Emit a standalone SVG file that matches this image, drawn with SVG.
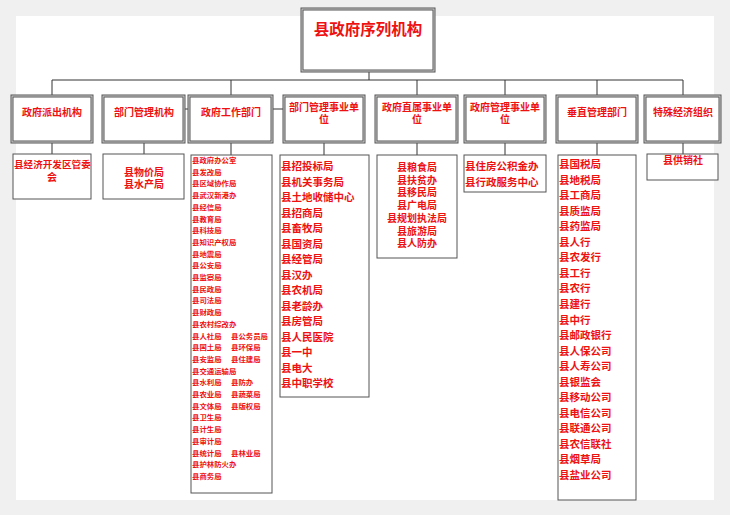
<svg xmlns="http://www.w3.org/2000/svg" width="730" height="515" viewBox="0 0 730 515">
<style>
.bg{fill:#f0f0f0}
.page{fill:#ffffff}
.hb{fill:#ffffff;stroke:#555555;stroke-width:3}
.hbi{fill:none;stroke:#d0d0d0;stroke-width:1}
.cb{fill:#ffffff;stroke:#555555;stroke-width:1}
.ln{fill:none;stroke:#333333;stroke-width:1}
text{font-family:"Noto Sans CJK SC","Noto Sans",sans-serif;fill:#ee1111;font-weight:bold}
.t{font-size:15.5px}
.h{font-size:10px;text-anchor:middle}
.c{font-size:10px;text-anchor:middle}
.l{font-size:10.5px}
.s{font-size:7.4px}
</style>
<rect class="bg" x="0" y="0" width="730" height="515"/>
<rect class="page" x="16" y="16" width="698" height="484"/>
<g id="connectors">
<path class="ln" d="M369,71V80M52,80H683M52,80V96M231,80V96M417,80V96M505,80V96M597,80V96M683,80V96"/>
<path class="ln" d="M184,109H189M272,109H284"/>
<path class="ln" d="M52,142V155M144,142V155M231,142V155M324,142V155M417,142V155M505,142V155M597,142V155M683,142V154"/>
</g>
<g id="title">
<rect class="hb" x="302" y="9" width="132" height="62"/>
<rect class="hbi" x="302" y="9" width="132" height="62"/>
<text class="t" x="368" y="35" text-anchor="middle">县政府序列机构</text>
</g>
<g id="h1"><rect class="hb" x="12" y="96" width="80" height="46"/><rect class="hbi" x="12" y="96" width="80" height="46"/><text class="h" x="52" y="116">政府派出机构</text></g>
<g id="h2"><rect class="hb" x="103" y="96" width="81" height="46"/><rect class="hbi" x="103" y="96" width="81" height="46"/><text class="h" x="144" y="116">部门管理机构</text></g>
<g id="h3"><rect class="hb" x="189" y="96" width="83" height="46"/><rect class="hbi" x="189" y="96" width="83" height="46"/><text class="h" x="231" y="116">政府工作部门</text></g>
<g id="h4"><rect class="hb" x="284" y="96" width="80" height="46"/><rect class="hbi" x="284" y="96" width="80" height="46"/><text class="h" x="324" y="111">部门管理事业单</text><text class="h" x="324" y="123">位</text></g>
<g id="h5"><rect class="hb" x="376" y="96" width="81" height="46"/><rect class="hbi" x="376" y="96" width="81" height="46"/><text class="h" x="417" y="111">政府直属事业单</text><text class="h" x="417" y="123">位</text></g>
<g id="h6"><rect class="hb" x="465" y="96" width="80" height="46"/><rect class="hbi" x="465" y="96" width="80" height="46"/><text class="h" x="505" y="111">政府管理事业单</text><text class="h" x="505" y="123">位</text></g>
<g id="h7"><rect class="hb" x="557" y="96" width="80" height="46"/><rect class="hbi" x="557" y="96" width="80" height="46"/><text class="h" x="597" y="116">垂直管理部门</text></g>
<g id="h8"><rect class="hb" x="645" y="96" width="75" height="46"/><rect class="hbi" x="645" y="96" width="75" height="46"/><text class="h" x="683" y="116">特殊经济组织</text></g>
<g id="c1"><rect class="cb" x="13" y="154" width="78" height="45"/>
<text class="l" x="14" y="168" style="font-size:9.6px">县经济开发区管委</text><text class="c" x="52" y="181">会</text></g>
<g id="c2"><rect class="cb" x="103" y="154" width="81" height="45"/>
<text class="c" x="144" y="176">县物价局</text><text class="c" x="144" y="188">县水产局</text></g>
<g id="c3"><rect class="cb" x="191" y="155" width="81" height="338"/>
<text class="s" x="192" y="163">县政府办公室</text>
<text class="s" x="192" y="174.7">县发改局</text>
<text class="s" x="192" y="186.4">县区域协作局</text>
<text class="s" x="192" y="198.1">县武汉新港办</text>
<text class="s" x="192" y="209.8">县经信局</text>
<text class="s" x="192" y="221.5">县教育局</text>
<text class="s" x="192" y="233.2">县科技局</text>
<text class="s" x="192" y="244.9">县知识产权局</text>
<text class="s" x="192" y="256.6">县地震局</text>
<text class="s" x="192" y="268.3">县公安局</text>
<text class="s" x="192" y="280">县监察局</text>
<text class="s" x="192" y="291.7">县民政局</text>
<text class="s" x="192" y="303.4">县司法局</text>
<text class="s" x="192" y="315.1">县财政局</text>
<text class="s" x="192" y="326.8">县农村综改办</text>
<text class="s" x="192" y="338.5">县人社局</text><text class="s" x="231" y="338.5">县公务员局</text>
<text class="s" x="192" y="350.2">县国土局</text><text class="s" x="231" y="350.2">县环保局</text>
<text class="s" x="192" y="361.9">县安监局</text><text class="s" x="231" y="361.9">县住建局</text>
<text class="s" x="192" y="373.6">县交通运输局</text>
<text class="s" x="192" y="385.3">县水利局</text><text class="s" x="231" y="385.3">县防办</text>
<text class="s" x="192" y="397">县农业局</text><text class="s" x="231" y="397">县蔬菜局</text>
<text class="s" x="192" y="408.7">县文体局</text><text class="s" x="231" y="408.7">县版权局</text>
<text class="s" x="192" y="420.4">县卫生局</text>
<text class="s" x="192" y="432.1">县计生局</text>
<text class="s" x="192" y="443.8">县审计局</text>
<text class="s" x="192" y="455.5">县统计局</text><text class="s" x="231" y="455.5">县林业局</text>
<text class="s" x="192" y="467.2">县护林防火办</text>
<text class="s" x="192" y="478.9">县商务局</text>
</g>
<g id="c4"><rect class="cb" x="280" y="155" width="89" height="242"/>
<text class="l" x="281" y="170">县招投标局</text>
<text class="l" x="281" y="185.5">县机关事务局</text>
<text class="l" x="281" y="201">县土地收储中心</text>
<text class="l" x="281" y="216.5">县招商局</text>
<text class="l" x="281" y="232">县畜牧局</text>
<text class="l" x="281" y="247.5">县国资局</text>
<text class="l" x="281" y="263">县经管局</text>
<text class="l" x="281" y="278.5">县汉办</text>
<text class="l" x="281" y="294">县农机局</text>
<text class="l" x="281" y="309.5">县老龄办</text>
<text class="l" x="281" y="325">县房管局</text>
<text class="l" x="281" y="340.5">县人民医院</text>
<text class="l" x="281" y="356">县一中</text>
<text class="l" x="281" y="371.5">县电大</text>
<text class="l" x="281" y="387">县中职学校</text>
</g>
<g id="c5"><rect class="cb" x="377" y="155" width="80" height="103"/>
<text class="c" x="417" y="171">县粮食局</text>
<text class="c" x="417" y="183.7">县扶贫办</text>
<text class="c" x="417" y="196.4">县移民局</text>
<text class="c" x="417" y="209.1">县广电局</text>
<text class="c" x="417" y="221.8">县规划执法局</text>
<text class="c" x="417" y="234.5">县旅游局</text>
<text class="c" x="417" y="247.2">县人防办</text>
</g>
<g id="c6"><rect class="cb" x="464" y="155" width="82" height="37"/>
<text class="l" x="465" y="170">县住房公积金办</text>
<text class="l" x="465" y="186">县行政服务中心</text>
</g>
<g id="c7"><rect class="cb" x="558" y="155" width="78" height="345"/>
<text class="l" x="559" y="168">县国税局</text>
<text class="l" x="559" y="183.55">县地税局</text>
<text class="l" x="559" y="199.1">县工商局</text>
<text class="l" x="559" y="214.65">县质监局</text>
<text class="l" x="559" y="230.2">县药监局</text>
<text class="l" x="559" y="245.75">县人行</text>
<text class="l" x="559" y="261.3">县农发行</text>
<text class="l" x="559" y="276.85">县工行</text>
<text class="l" x="559" y="292.4">县农行</text>
<text class="l" x="559" y="307.95">县建行</text>
<text class="l" x="559" y="323.5">县中行</text>
<text class="l" x="559" y="339.05">县邮政银行</text>
<text class="l" x="559" y="354.6">县人保公司</text>
<text class="l" x="559" y="370.15">县人寿公司</text>
<text class="l" x="559" y="385.7">县银监会</text>
<text class="l" x="559" y="401.25">县移动公司</text>
<text class="l" x="559" y="416.8">县电信公司</text>
<text class="l" x="559" y="432.35">县联通公司</text>
<text class="l" x="559" y="447.9">县农信联社</text>
<text class="l" x="559" y="463.45">县烟草局</text>
<text class="l" x="559" y="479">县盐业公司</text>
</g>
<g id="c8"><rect class="cb" x="647" y="154" width="71" height="26"/>
<text class="c" x="683" y="164">县供销社</text>
</g>
</svg>
